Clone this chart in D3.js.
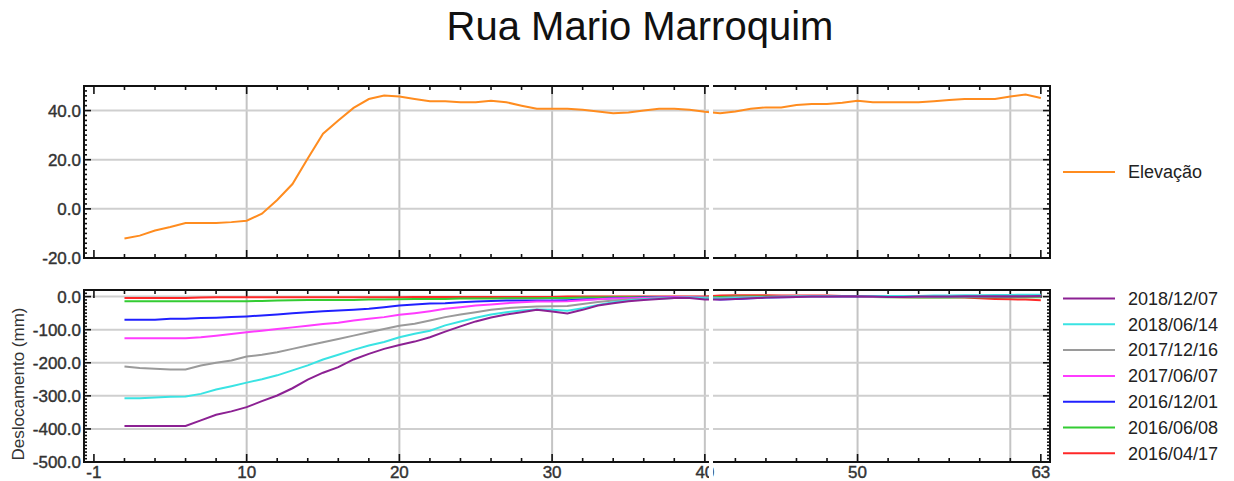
<!DOCTYPE html>
<html>
<head>
<meta charset="utf-8">
<script src="https://cdn.jsdelivr.net/npm/d3@7"></script>
<style>
  body { margin: 0; background: #fff; }
  svg { display: block; font-family: "Liberation Sans", Arial, sans-serif; }
</style>
</head>
<body>
<div id="chart"></div>
<script>
// stations along the street (x)
const station = [2,3,4,5,6,7,8,9,10,11,12,13,14,15,16,17,18,19,20,21,22,23,24,25,26,27,28,29,30,31,32,
  33,34,35,36,37,38,39,40,41,42,43,44,45,46,47,48,49,50,51,52,53,54,55,56,57,58,59,60,61,62];

const elevacao = [-12.1,-10.9,-8.8,-7.4,-5.8,-5.8,-5.8,-5.4,-4.8,-2.0,3.6,10.1,20.5,30.6,36,41.1,44.7,46.1,45.7,44.7,43.8,
  43.8,43.4,43.4,44,43.4,42,40.7,40.7,40.7,40.3,39.6,38.9,39.2,40,40.7,40.7,40.3,39.5,38.9,39.6,40.7,41.3,41.3,42.3,
  42.7,42.7,43.2,44,43.4,43.4,43.4,43.4,43.8,44.3,44.7,44.7,44.7,45.7,46.5,45.1];

const d20181207 = [-391,-391,-391,-391,-391,-374,-357,-347,-334,-316,-299,-277,-251,-230,-213,-190,-173,-158,-146,-136,
  -123,-106,-90,-75,-63,-54,-47,-40,-45,-51,-40,-27,-20,-14,-10,-7,-4,-4,-9,-9,-7,-5,-3,-2,-1,0,0,1,1,0,-1,-1,0,0,0,1,1,1,1,1,2];
const d20180614 = [-307,-307,-305,-303,-302,-294,-281,-271,-260,-250,-238,-223,-208,-190,-176,-161,-148,-137,-123,-112,
  -103,-87,-75,-64,-54,-47,-42,-39,-40,-43,-35,-25,-17,-12,-8,-6,-4,-3,-5,-6,-4,-3,-2,-1,0,1,1,2,2,2,2,2,2,3,3,4,4,5,5,6,6];
const d20171216 = [-211,-216,-218,-220,-220,-208,-200,-193,-181,-176,-168,-158,-148,-138,-128,-118,-108,-98,-88,-82,
  -72,-62,-54,-47,-40,-35,-32,-30,-29,-28,-22,-16,-12,-9,-7,-5,-4,-3,-4,-5,-3,-2,-1,0,0,0,1,1,1,0,0,0,0,0,1,1,1,1,2,2,2];
const d20170607 = [-126,-126,-126,-126,-126,-123,-118,-113,-108,-103,-98,-93,-88,-83,-79,-72,-67,-62,-55,-50,
  -44,-37,-32,-27,-24,-20,-17,-15,-15,-14,-11,-8,-6,-5,-4,-3,-2,-2,-3,-4,-3,-2,-1,0,0,0,0,1,1,0,0,0,0,1,1,1,1,1,1,1,1];
const d20161201 = [-70,-70,-70,-67,-67,-65,-64,-62,-60,-57,-54,-50,-47,-44,-42,-40,-37,-32,-27,-24,
  -21,-20,-17,-15,-13,-12,-12,-12,-12,-11,-9,-7,-5,-4,-3,-3,-2,-2,-5,-9,-7,-5,-3,-2,-1,0,0,0,1,0,0,0,0,0,1,1,1,1,1,2,2];
const d20160608 = [-14,-14,-14,-14,-14,-14,-14,-14,-14,-13,-12,-11,-10,-10,-10,-10,-9,-9,-8,-7,
  -7,-7,-6,-6,-6,-5,-5,-5,-4,-4,-3,-3,-2,-2,-2,-1,-1,-1,-2,-1,0,0,0,0,0,0,0,0,0,-1,-2,-2,-3,-3,-3,-2,-2,-2,-2,-2,-2];
const d20160417 = [-4,-4,-4,-4,-4,-3,-2,-2,-2,-2,-2,-2,-2,-2,-2,-2,-2,-2,-2,-1,
  -1,-1,-1,-1,-1,-1,-1,-1,-1,0,0,0,0,0,0,0,0,0,0,3,4,4,4,3,3,3,3,2,1,0,-1,-2,-2,-2,-2,-3,-5,-7,-8,-9,-11];

const seriesNames = ["2018/12/07","2018/06/14","2017/12/16","2017/06/07","2016/12/01","2016/06/08","2016/04/17"];
const seriesValues = [d20181207, d20180614, d20171216, d20170607, d20161201, d20160608, d20160417];
const seriesColors = ["#8c2193","#3ae3e3","#9a9a9a","#ff3cff","#2020ff","#33cc33","#ff2828"];

const xTickValues = [0,10,20,30,40,50,62];
const xTickLabels = ["-1","10","20","30","40","50","63"];
const elevTicks = [-20,0,20,40];
const deslTicks = [-500,-400,-300,-200,-100,0];

const W = 1234, H = 481;
const left = 84, right = 1050;
const top1 = 86, bot1 = 258;
const top2 = 290, bot2 = 462;

const svg = d3.select("#chart").append("svg").attr("width", W).attr("height", H);

const x = d3.scaleLinear().domain([-0.65, 62.6]).range([left, right]);
const y1 = d3.scaleLinear().domain([-20, 50]).range([bot1, top1]);
const y2 = d3.scaleLinear().domain([-500, 20]).range([bot2, top2]);

// plain hyphen for negatives, like the original
const fmt = d3.formatLocale({ decimal: ".", thousands: ",", grouping: [3], currency: ["", ""], minus: "-" }).format(".1f");

svg.append("text")
  .attr("x", 640).attr("y", 40)
  .attr("text-anchor", "middle")
  .style("font-size", "40px").style("fill", "#111")
  .text("Rua Mario Marroquim");

function panel(y, top, bot, yTicks, yMinorStep, xLabels) {
  const g = svg.append("g");
  // grid
  g.selectAll(".gx").data([10,20,30,40,50,60]).join("line")
    .attr("x1", d => x(d)).attr("x2", d => x(d)).attr("y1", top).attr("y2", bot)
    .attr("stroke", "#c4c4c4").attr("stroke-width", 2);
  g.selectAll(".gy").data(yTicks.slice(1)).join("line")
    .attr("x1", left).attr("x2", right).attr("y1", d => y(d)).attr("y2", d => y(d))
    .attr("stroke", "#cfcfcf").attr("stroke-width", 2);

  // x ticks (top and bottom, inward)
  const minorX = d3.range(0, 63, 2).filter(d => !xTickValues.includes(d));
  const tk = g.append("g").attr("stroke", "#111").attr("stroke-width", 1.6);
  [[bot, -1], [top, 1]].forEach(([yy, s]) => {
    tk.selectAll(null).data(minorX).join("line")
      .attr("x1", d => x(d)).attr("x2", d => x(d)).attr("y1", yy).attr("y2", yy + s * 4);
    tk.selectAll(null).data(xTickValues).join("line")
      .attr("x1", d => x(d)).attr("x2", d => x(d)).attr("y1", yy).attr("y2", yy + s * 8);
  });
  // y ticks (left and right, inward)
  const dom = y.domain();
  const minorY = d3.range(dom[0], dom[1] + 0.001, yMinorStep).filter(d => !yTicks.includes(d));
  [[left, 1], [right, -1]].forEach(([xx, s]) => {
    tk.selectAll(null).data(minorY).join("line")
      .attr("x1", xx).attr("x2", xx + s * 3).attr("y1", d => y(d)).attr("y2", d => y(d));
    tk.selectAll(null).data(yTicks).join("line")
      .attr("x1", xx).attr("x2", xx + s * 7).attr("y1", d => y(d)).attr("y2", d => y(d));
  });

  g.selectAll(".yl").data(yTicks).join("text")
    .attr("x", left - 3).attr("y", d => y(d)).attr("dy", "0.36em")
    .attr("text-anchor", "end")
    .style("font-size", "17px").style("fill", "#333")
    .style("stroke", "#333").style("stroke-width", 0.4)
    .text(d => fmt(d));

  if (xLabels) {
    g.selectAll(".xl").data(xTickValues).join("text")
      .attr("x", d => x(d)).attr("y", bot + 16)
      .attr("text-anchor", "middle")
      .style("font-size", "17px").style("fill", "#333")
      .style("stroke", "#333").style("stroke-width", 0.4)
      .text((d, i) => xTickLabels[i]);
  }
  return g;
}

const p1 = panel(y1, top1, bot1, elevTicks, 2, false);
const p2 = panel(y2, top2, bot2, deslTicks, 10, true);

// lines
const line1 = d3.line().x((d, i) => x(station[i])).y(d => y1(d));
svg.append("path").datum(elevacao)
  .attr("d", line1).attr("fill", "none")
  .attr("stroke", "#ff8c1f").attr("stroke-width", 2);

const line2 = d3.line().x((d, i) => x(station[i])).y(d => y2(d));
for (let k = seriesValues.length - 1; k >= 0; k--) {
  svg.append("path").datum(seriesValues[k])
    .attr("d", line2).attr("fill", "none")
    .attr("stroke", seriesColors[k]).attr("stroke-width", 2);
}

// frames
[[top1, bot1], [top2, bot2]].forEach(([t, b]) => {
  svg.append("rect").attr("x", left).attr("y", t).attr("width", right - left).attr("height", b - t)
    .attr("fill", "none").attr("stroke", "#111").attr("stroke-width", 2);
});

// y axis title
svg.append("text")
  .attr("transform", `translate(18,${(top2 + bot2) / 2 + 8}) rotate(-90)`)
  .attr("text-anchor", "middle").attr("dy", "0.35em")
  .style("font-size", "17px").style("fill", "#333")
  .text("Deslocamento (mm)");

// break between the two stitched halves
svg.append("rect").attr("x", 709).attr("y", 82).attr("width", 4).attr("height", 399).attr("fill", "#fff");

// legends
const lg1 = svg.append("g");
lg1.append("line").attr("x1", 1063).attr("x2", 1115).attr("y1", 172).attr("y2", 172)
  .attr("stroke", "#ff8c1f").attr("stroke-width", 2);
lg1.append("text").attr("x", 1128).attr("y", 172).attr("dy", "0.35em")
  .style("font-size", "18px").style("fill", "#222").text("Elevação");

const lg2 = svg.append("g").selectAll("g").data(seriesNames).join("g")
  .attr("transform", (d, i) => `translate(0,${298.5 + i * 25.8})`);
lg2.append("line").attr("x1", 1063).attr("x2", 1115)
  .attr("stroke", (d, i) => seriesColors[i]).attr("stroke-width", 2);
lg2.append("text").attr("x", 1128).attr("dy", "0.35em")
  .style("font-size", "18px").style("fill", "#222").text(d => d);
</script>
</body>
</html>
